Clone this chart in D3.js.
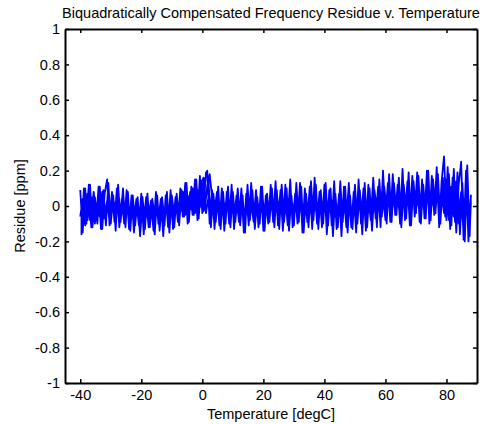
<!DOCTYPE html>
<html><head><meta charset="utf-8">
<script src="https://cdn.jsdelivr.net/npm/d3@7"></script>
<style>html,body{margin:0;padding:0;background:#fff;}svg{display:block;font-family:"Liberation Sans",Arial,sans-serif;}</style>
</head><body><svg id="c" width="480" height="424"></svg>
<script>
const title = "Biquadratically Compensated Frequency Residue v. Temperature";
const xLabel = "Temperature [degC]";
const yLabel = "Residue [ppm]";
const xTicks = [-40, -20, 0, 20, 40, 60, 80];
const yTicks = [-1, -0.8, -0.6, -0.4, -0.2, 0, 0.2, 0.4, 0.6, 0.8, 1];
const xDomain = [-45, 90];
const yDomain = [-1, 1];

// cycle 1, heating
const tempsUp = [
-40,-39.2,-38.4,-37.6,-36.8,-36,-35.2,-34.4,-33.6,-32.8,
-32,-31.2,-30.4,-29.6,-28.8,-28,-27.2,-26.4,-25.6,-24.8,
-24,-23.2,-22.4,-21.6,-20.8,-20,-19.2,-18.4,-17.6,-16.8,
-16,-15.2,-14.4,-13.6,-12.8,-12,-11.2,-10.4,-9.6,-8.8,
-8,-7.2,-6.4,-5.6,-4.8,-4,-3.2,-2.4,-1.6,-0.8,
0,0.8,1.6,2.4,3.2,4,4.8,5.6,6.4,7.2,
8,8.8,9.6,10.4,11.2,12,12.8,13.6,14.4,15.2,
16,16.8,17.6,18.4,19.2,20,20.8,21.6,22.4,23.2,
24,24.8,25.6,26.4,27.2,28,28.8,29.6,30.4,31.2,
32,32.8,33.6,34.4,35.2,36,36.8,37.6,38.4,39.2,
40,40.8,41.6,42.4,43.2,44,44.8,45.6,46.4,47.2,
48,48.8,49.6,50.4,51.2,52,52.8,53.6,54.4,55.2,
56,56.8,57.6,58.4,59.2,60,60.8,61.6,62.4,63.2,
64,64.8,65.6,66.4,67.2,68,68.8,69.6,70.4,71.2,
72,72.8,73.6,74.4,75.2,76,76.8,77.6,78.4,79.2,
80,80.8,81.6,82.4,83.2,84,84.8,85.6,86.4,87.2,88];
const residueUp = [
0.09,-0.15,0.1,-0.08,0.12,-0.12,0.05,-0.1,0.11,-0.13,0.07,0.15,-0.11,0.08,-0.09,0.1,-0.12,0.04,-0.1,0.09,
-0.13,0.06,-0.15,0.03,-0.11,0.07,-0.16,0.05,-0.12,0.02,-0.14,0.08,-0.1,0.04,-0.17,0.06,-0.12,0.09,-0.13,0.05,
-0.09,0.1,-0.06,0.13,-0.1,0.08,-0.05,0.15,-0.08,0.17,-0.04,0.14,0.2,-0.1,0.09,-0.13,0.06,-0.11,0.1,-0.14,
0.08,-0.1,0.12,-0.13,0.05,-0.09,0.1,-0.15,0.07,-0.11,0.13,-0.08,0.09,-0.12,0.11,-0.14,0.06,-0.1,0.12,-0.09,
0.14,-0.11,0.09,-0.14,0.12,-0.08,0.15,-0.12,0.07,-0.1,0.13,-0.15,0.1,-0.09,0.11,-0.13,0.16,-0.1,0.08,-0.12,
0.12,-0.16,0.09,-0.11,0.14,-0.13,0.07,-0.17,0.11,-0.09,0.13,-0.12,0.08,-0.15,0.15,-0.1,0.1,-0.14,0.12,-0.08,
0.16,-0.07,0.11,-0.12,0.2,-0.06,0.13,-0.09,0.18,-0.05,0.12,-0.1,0.21,-0.08,0.14,-0.11,0.17,-0.06,0.19,-0.09,
0.15,-0.07,0.2,-0.1,0.17,-0.05,0.22,-0.12,0.14,0.28,-0.08,0.18,-0.11,0.21,-0.15,0.12,0.25,-0.19,0.2,-0.2,0.06];

// cycle 1, cooling
const tempsDown = [
87.6,86.8,86,85.2,84.4,83.6,82.8,82,81.2,80.4,
79.6,78.8,78,77.2,76.4,75.6,74.8,74,73.2,72.4,
71.6,70.8,70,69.2,68.4,67.6,66.8,66,65.2,64.4,
63.6,62.8,62,61.2,60.4,59.6,58.8,58,57.2,56.4,
55.6,54.8,54,53.2,52.4,51.6,50.8,50,49.2,48.4,
47.6,46.8,46,45.2,44.4,43.6,42.8,42,41.2,40.4,
39.6,38.8,38,37.2,36.4,35.6,34.8,34,33.2,32.4,
31.6,30.8,30,29.2,28.4,27.6,26.8,26,25.2,24.4,
23.6,22.8,22,21.2,20.4,19.6,18.8,18,17.2,16.4,
15.6,14.8,14,13.2,12.4,11.6,10.8,10,9.2,8.4,
7.6,6.8,6,5.2,4.4,3.6,2.8,2,1.2,0.4,
-0.4,-1.2,-2,-2.8,-3.6,-4.4,-5.2,-6,-6.8,-7.6,
-8.4,-9.2,-10,-10.8,-11.6,-12.4,-13.2,-14,-14.8,-15.6,
-16.4,-17.2,-18,-18.8,-19.6,-20.4,-21.2,-22,-22.8,-23.6,
-24.4,-25.2,-26,-26.8,-27.6,-28.4,-29.2,-30,-30.8,-31.6,
-32.4,-33.2,-34,-34.8,-35.6,-36.4,-37.2,-38,-38.8,-39.6];
const residueDown = [
-0.17,0.23,-0.2,0.1,-0.16,0.19,-0.09,0.16,-0.13,0.22,-0.06,0.13,-0.1,0.18,-0.04,0.15,-0.08,0.2,-0.07,0.12,
-0.1,0.17,-0.04,0.14,-0.11,0.19,-0.07,0.1,-0.12,0.16,-0.05,0.13,-0.09,0.18,-0.1,0.11,-0.06,0.15,-0.12,0.09,
-0.14,0.1,-0.12,0.13,-0.16,0.08,-0.1,0.12,-0.13,0.06,-0.15,0.11,-0.09,0.14,-0.12,0.07,-0.17,0.1,-0.11,0.13,
-0.1,0.09,-0.13,0.12,-0.08,0.14,-0.12,0.07,-0.15,0.11,-0.09,0.13,-0.11,0.06,-0.14,0.1,-0.07,0.12,-0.13,0.09,
-0.12,0.1,-0.09,0.07,-0.14,0.11,-0.1,0.05,-0.13,0.09,-0.08,0.12,-0.15,0.06,-0.11,0.1,-0.09,0.08,-0.12,0.11,
-0.1,0.08,-0.13,0.11,-0.09,0.07,-0.12,0.16,0.19,-0.03,0.12,-0.07,0.15,-0.05,0.11,-0.09,0.13,-0.06,0.09,-0.11,
0.07,-0.12,0.05,-0.15,0.08,-0.11,0.03,-0.14,0.06,-0.16,0.04,-0.12,0.07,-0.13,0.02,-0.17,0.05,-0.11,0.06,-0.14,
0.08,-0.12,0.1,-0.09,0.12,-0.14,0.06,-0.1,0.13,-0.11,0.09,-0.13,0.11,-0.08,0.07,-0.12,0.12,-0.1,0.1,-0.16];

// cycle 2 runs through the same set points (heating: -39.6 .. 87.6, cooling: 88 .. -40)
const tempsUp2 = tempsDown.slice().reverse();
const residueUp2 = [
-0.05,0.06,-0.09,0.03,-0.07,0.08,-0.04,0.05,-0.1,0.02,-0.06,0.07,-0.08,0.04,-0.03,0.06,-0.09,0.05,-0.06,0.03,
-0.08,0.04,-0.1,0.02,-0.07,0.05,-0.11,0.01,-0.09,0.04,-0.06,0.03,-0.12,0.05,-0.08,0.02,-0.1,0.06,-0.05,0.03,
-0.04,0.07,-0.02,0.09,-0.05,0.1,-0.03,0.12,0.02,0.13,0.16,-0.04,0.05,-0.08,0.07,-0.06,0.04,-0.09,0.06,-0.05,
0.05,-0.07,0.03,-0.09,0.06,-0.05,0.02,-0.08,0.07,-0.04,0.05,-0.1,0.03,-0.06,0.08,-0.07,0.04,-0.05,0.06,-0.08,
0.07,-0.05,0.04,-0.09,0.08,-0.06,0.03,-0.07,0.09,-0.04,0.06,-0.08,0.05,-0.1,0.07,-0.05,0.02,-0.07,0.06,-0.04,
0.05,-0.09,0.07,-0.06,0.03,-0.1,0.06,-0.05,0.08,-0.07,0.04,-0.11,0.06,-0.04,0.09,-0.08,0.05,-0.06,0.07,-0.03,
0.09,-0.03,0.06,-0.05,0.11,-0.02,0.08,-0.04,0.1,-0.01,0.07,-0.06,0.12,-0.03,0.09,-0.05,0.13,-0.02,0.08,-0.04,
0.1,-0.03,0.14,-0.05,0.09,-0.02,0.12,-0.07,0.16,-0.04,0.11,-0.06,0.15,-0.09,0.08,-0.12,0.13,-0.14,0.1,-0.15];
const tempsDown2 = tempsUp.slice().reverse();
const residueDown2 = [
0.02,-0.12,0.1,-0.16,0.08,-0.1,0.14,-0.06,0.11,-0.08,0.15,-0.04,0.09,-0.07,0.12,-0.03,0.08,-0.06,0.13,-0.02,
0.1,-0.05,0.07,-0.02,0.12,-0.06,0.09,-0.03,0.11,-0.07,0.06,-0.04,0.1,-0.05,0.08,-0.08,0.05,-0.03,0.09,-0.06,
0.06,-0.08,0.04,-0.11,0.07,-0.05,0.09,-0.09,0.03,-0.07,0.08,-0.12,0.05,-0.06,0.07,-0.1,0.04,-0.08,0.06,-0.05,
0.08,-0.07,0.05,-0.1,0.09,-0.04,0.06,-0.08,0.03,-0.06,0.1,-0.09,0.05,-0.05,0.07,-0.11,0.04,-0.06,0.08,-0.07,
0.04,-0.08,0.07,-0.06,0.03,-0.1,0.06,-0.05,0.08,-0.09,0.02,-0.07,0.05,-0.11,0.07,-0.04,0.06,-0.08,0.03,-0.06,
0.07,-0.09,0.04,-0.06,0.08,-0.03,0.05,0.18,0.11,-0.02,0.13,-0.01,0.09,-0.04,0.1,-0.02,0.06,-0.05,0.08,-0.03,
-0.06,0.03,-0.09,0.05,-0.07,0.01,-0.1,0.04,-0.08,0.02,-0.12,0.03,-0.06,0.05,-0.09,0,-0.11,0.04,-0.07,0.02,
-0.05,0.06,-0.08,0.04,-0.1,0.07,-0.04,0.05,-0.09,0.03,-0.07,0.08,-0.06,0.02,-0.1,0.05,-0.08,0.07,-0.11,0.04,-0.06];

const L = 65, R = 477, T = 29, B = 383;
const FS = "14.5px";
const svg = d3.select("#c");
const x = d3.scaleLinear().domain(xDomain).range([L, R]);
const y = d3.scaleLinear().domain(yDomain).range([B, T]);

const join = (ts, vs) => ts.map((t, i) => [t, vs[i]]);
const pts = [].concat(
  join(tempsUp, residueUp), join(tempsDown, residueDown),
  join(tempsUp2, residueUp2), join(tempsDown2, residueDown2));

svg.append("path")
  .datum(pts)
  .attr("fill", "none")
  .attr("stroke", "#0000ff")
  .attr("stroke-width", 1.8)
  .attr("stroke-linejoin", "round")
  .attr("d", d3.line().x(d => x(d[0])).y(d => y(d[1])));

const tl = 4;
const axB = svg.append("g").attr("transform", `translate(0,${B})`)
  .call(d3.axisBottom(x).tickValues(xTicks).tickSize(-tl).tickPadding(7).tickSizeOuter(0).tickFormat(d => d));
const axT = svg.append("g").attr("transform", `translate(0,${T})`)
  .call(d3.axisTop(x).tickValues(xTicks).tickSize(-tl).tickSizeOuter(0).tickFormat(""));
const axL = svg.append("g").attr("transform", `translate(${L},0)`)
  .call(d3.axisLeft(y).tickValues(yTicks).tickSize(-tl).tickPadding(5).tickSizeOuter(0).tickFormat(d => d));
const axR = svg.append("g").attr("transform", `translate(${R},0)`)
  .call(d3.axisRight(y).tickValues(yTicks).tickSize(-tl).tickSizeOuter(0).tickFormat(""));
[axB, axT, axL, axR].forEach(g => {
  g.select(".domain").attr("stroke", "#000").attr("stroke-width", 2);
  g.selectAll(".tick line").attr("stroke", "#000").attr("stroke-width", 1.5);
  g.selectAll("text").attr("fill", "#000").style("font-size", FS).style("font-family", '"Liberation Sans",Arial,sans-serif');
});

svg.append("text").attr("x", (L + R) / 2).attr("y", 17.5).attr("text-anchor", "middle")
  .style("font-size", FS).text(title);
svg.append("text").attr("x", (L + R) / 2).attr("y", 419).attr("text-anchor", "middle")
  .style("font-size", FS).text(xLabel);
svg.append("text").attr("transform", `translate(25,${(T + B) / 2}) rotate(-90)`).attr("text-anchor", "middle")
  .style("font-size", FS).text(yLabel);
</script></body></html>
